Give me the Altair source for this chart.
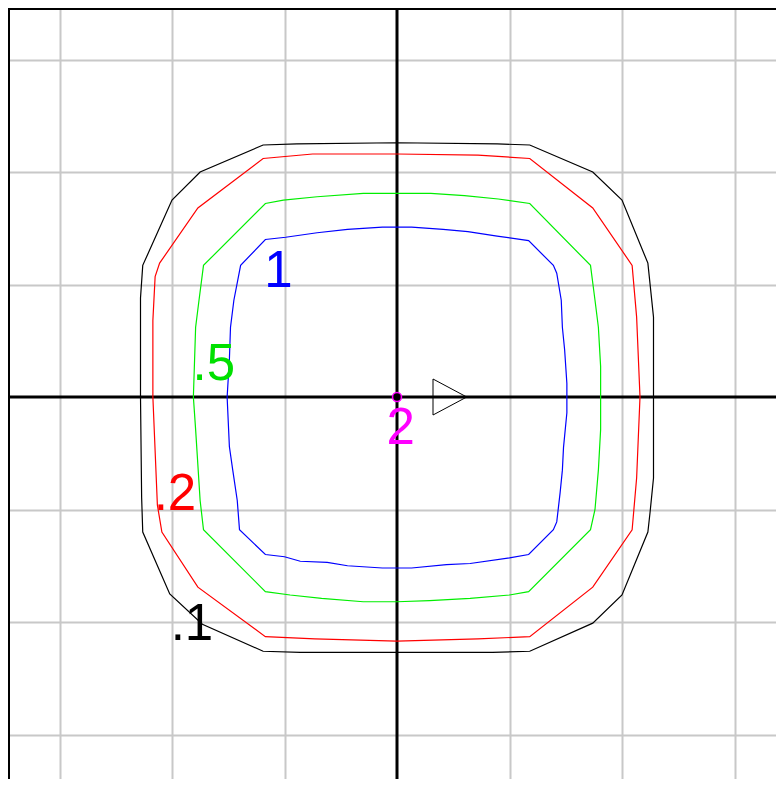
import altair as alt
import pandas as pd

# ---- contour ".1" (black) ----
c01_x = [0, 0.89, 1.18, 1.74, 2.0, 2.23, 2.28, 2.28,
         2.28, 2.25, 2.23, 2.0, 1.74, 1.18, 0.85, 0,
         -0.86, -1.19, -1.73, -2.02, -2.26, -2.27, -2.28,
         -2.28, -2.26, -2.0, -1.75, -1.19, -0.89, 0]
c01_y = [2.26, 2.25, 2.24, 2.0, 1.75, 1.19, 0.71, 0,
         -0.72, -1.02, -1.2, -1.76, -2.01, -2.26, -2.27, -2.27,
         -2.27, -2.26, -2.02, -1.75, -1.2, -0.89, 0,
         0.88, 1.17, 1.75, 2.0, 2.24, 2.25, 2.26]

# ---- contour ".2" (red) ----
c02_x = [0, 0.72, 1.18, 1.74, 2.09, 2.13, 2.16,
         2.13, 2.09, 1.74, 1.18, 0.72, 0,
         -0.73, -1.17, -1.77, -2.09, -2.13, -2.17,
         -2.17, -2.15, -2.11, -1.77, -1.19, -0.75, 0]
c02_y = [2.16, 2.15, 2.12, 1.68, 1.17, 0.71, 0,
         -0.72, -1.18, -1.69, -2.13, -2.15, -2.17,
         -2.15, -2.13, -1.69, -1.2, -0.96, 0,
         0.68, 1.07, 1.19, 1.68, 2.12, 2.16, 2.16]

# ---- contour ".5" (green) ----
c05_x = [0, 0.3, 0.6, 0.9, 1.18, 1.72, 1.76, 1.79, 1.81, 1.81,
         1.81, 1.79, 1.76, 1.72, 1.17, 1.0, 0.65, 0.29, 0,
         -0.3, -0.67, -0.95, -1.17, -1.72, -1.75, -1.79, -1.81,
         -1.79, -1.76, -1.72, -1.17, -1.01, -0.71, -0.3, 0]
c05_y = [1.81, 1.81, 1.79, 1.76, 1.72, 1.17, 0.86, 0.62, 0.27, 0,
         -0.29, -0.65, -1.0, -1.18, -1.73, -1.76, -1.79, -1.81, -1.82,
         -1.82, -1.79, -1.76, -1.73, -1.18, -0.92, -0.29, 0,
         0.62, 0.86, 1.17, 1.72, 1.75, 1.78, 1.81, 1.81]

# ---- contour "1" (blue) ----
c1_x = [0, 0.13, 0.41, 0.63, 0.89, 1.17, 1.39, 1.42, 1.46, 1.47, 1.49, 1.51, 1.51,
        1.51, 1.48, 1.47, 1.45, 1.42, 1.39, 1.17, 1.0, 0.65, 0.44, 0.13, 0,
        -0.13, -0.44, -0.62, -0.86, -1.0, -1.17, -1.40, -1.42, -1.46, -1.49, -1.51,
        -1.49, -1.48, -1.45, -1.39, -1.17, -0.99, -0.71, -0.44, -0.13, 0]
c1_y = [1.51, 1.51, 1.49, 1.47, 1.43, 1.39, 1.17, 1.1, 0.86, 0.62, 0.42, 0.12, 0,
        -0.14, -0.45, -0.65, -0.85, -1.11, -1.18, -1.40, -1.43, -1.48, -1.49, -1.52, -1.52,
        -1.52, -1.50, -1.47, -1.46, -1.42, -1.40, -1.18, -0.92, -0.65, -0.44, 0,
        0.33, 0.62, 0.86, 1.17, 1.40, 1.42, 1.46, 1.49, 1.51, 1.51]

contour_names = [".1", ".2", ".5", "1"]
contour_colors = ["#000000", "#ff0000", "#00ee00", "#0000ff"]

# direction triangle (outline)
tri_x = [0.32, 0.62, 0.32, 0.32]
tri_y = [0.16, 0.0, -0.16, 0.16]

# labels
label_text = ["1", ".5", ".2", ".1", "2"]
label_x = [-1.054, -1.628, -1.974, -1.823, 0.033]
label_y = [0.978, 0.151, -1.004, -2.16, -0.418]
label_color = ["#0000ff", "#00e000", "#ff0000", "#000000", "#ff00ff"]

grid_vals = [-3, -2, -1, 1, 2, 3]

# ---- layout ----
W, H = 768, 771
PX = 112.5
CX, CY = 389, 389
xs = alt.Scale(domain=[-CX / PX, (W - CX) / PX], nice=False, zero=False)
ys = alt.Scale(domain=[-(H - CY) / PX, CY / PX], nice=False, zero=False)
ax = alt.Axis(values=grid_vals, grid=True, labels=False, ticks=False, domain=False,
              title=None, gridColor="#c8c8c8", gridWidth=2)

rows = []
for name, xv, yv in zip(contour_names, [c01_x, c02_x, c05_x, c1_x], [c01_y, c02_y, c05_y, c1_y]):
    for i, (a, b) in enumerate(zip(xv, yv)):
        rows.append({"name": name, "i": i, "x": a, "y": b})
cdf = pd.DataFrame(rows)

contours = alt.Chart(cdf).mark_line(strokeWidth=1.2).encode(
    x=alt.X("x:Q", scale=xs, axis=ax),
    y=alt.Y("y:Q", scale=ys, axis=ax),
    color=alt.Color("name:N", scale=alt.Scale(domain=contour_names, range=contour_colors), legend=None),
    detail="name:N",
    order=alt.Order("i:Q"),
)

zero_df = pd.DataFrame({"v": [0]})
vline = alt.Chart(zero_df).mark_rule(color="black", strokeWidth=3).encode(
    x=alt.X("v:Q", scale=xs, axis=ax))
hline = alt.Chart(zero_df).mark_rule(color="black", strokeWidth=3).encode(
    y=alt.Y("v:Q", scale=ys, axis=ax))

border_top = alt.Chart(zero_df).mark_rule(color="black", strokeWidth=2).encode(
    x=alt.value(0), x2=alt.value(W), y=alt.value(1))
border_left = alt.Chart(zero_df).mark_rule(color="black", strokeWidth=2).encode(
    y=alt.value(0), y2=alt.value(H), x=alt.value(1))

tdf = pd.DataFrame({"x": tri_x, "y": tri_y, "i": list(range(len(tri_x)))})
tri = alt.Chart(tdf).mark_line(color="black", strokeWidth=1).encode(
    x=alt.X("x:Q", scale=xs, axis=ax),
    y=alt.Y("y:Q", scale=ys, axis=ax),
    order=alt.Order("i:Q"),
)

odf = pd.DataFrame({"x": [0.0], "y": [0.0]})
origin_ring = alt.Chart(odf).mark_point(shape="circle", filled=True, color="#ff00ff", size=110, opacity=1).encode(
    x=alt.X("x:Q", scale=xs, axis=ax), y=alt.Y("y:Q", scale=ys, axis=ax))
origin_dot = alt.Chart(odf).mark_point(shape="circle", filled=True, color="black", size=55, opacity=1).encode(
    x=alt.X("x:Q", scale=xs, axis=ax), y=alt.Y("y:Q", scale=ys, axis=ax))

ldf = pd.DataFrame({"t": label_text, "x": label_x, "y": label_y, "c": label_color})
labels = alt.Chart(ldf).mark_text(font="Liberation Sans", fontSize=51, align="center",
                                  baseline="alphabetic").encode(
    x=alt.X("x:Q", scale=xs, axis=ax),
    y=alt.Y("y:Q", scale=ys, axis=ax),
    text="t:N",
    color=alt.Color("c:N", scale=None),
)

chart = alt.layer(
    vline, hline, contours, tri, origin_ring, origin_dot, labels, border_top, border_left
).properties(
    width=W, height=H, padding=0, autosize=alt.AutoSizeParams(type="none")
).configure_view(stroke=None)

chart.save("out.html", embed_options={"renderer": "svg", "actions": False})
